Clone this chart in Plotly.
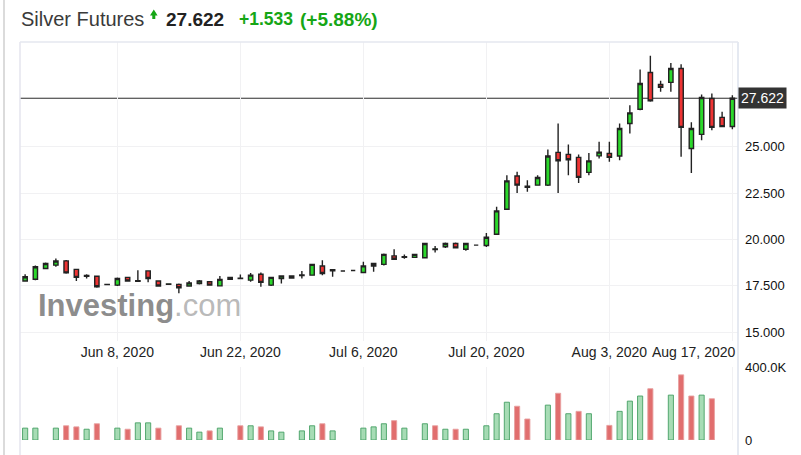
import plotly.graph_objects as go

# ---------------- data ----------------
dates = [
    "2020-05-28", "2020-05-29", "2020-05-31",
    "2020-06-01", "2020-06-02", "2020-06-03", "2020-06-04", "2020-06-05", "2020-06-07",
    "2020-06-08", "2020-06-09", "2020-06-10", "2020-06-11", "2020-06-12", "2020-06-14",
    "2020-06-15", "2020-06-16", "2020-06-17", "2020-06-18", "2020-06-19", "2020-06-21",
    "2020-06-22", "2020-06-23", "2020-06-24", "2020-06-25", "2020-06-26", "2020-06-28",
    "2020-06-29", "2020-06-30", "2020-07-01", "2020-07-02", "2020-07-03", "2020-07-05",
    "2020-07-06", "2020-07-07", "2020-07-08", "2020-07-09", "2020-07-10", "2020-07-12",
    "2020-07-13", "2020-07-14", "2020-07-15", "2020-07-16", "2020-07-17", "2020-07-19",
    "2020-07-20", "2020-07-21", "2020-07-22", "2020-07-23", "2020-07-24", "2020-07-26",
    "2020-07-27", "2020-07-28", "2020-07-29", "2020-07-30", "2020-07-31", "2020-08-02",
    "2020-08-03", "2020-08-04", "2020-08-05", "2020-08-06", "2020-08-07", "2020-08-09",
    "2020-08-10", "2020-08-11", "2020-08-12", "2020-08-13", "2020-08-14", "2020-08-16",
    "2020-08-17",
]

opens = [
    17.75, 17.85, 18.43,
    18.61, 18.84, 18.38, 18.01, 18.01, 17.56,
    17.53, 17.95, 17.74, 18.30, 17.75, 17.58,
    17.57, 17.48, 17.62, 17.71, 17.49, 17.84,
    17.91, 17.80, 18.12, 17.53, 17.89, 17.91,
    18.05, 18.07, 18.56, 18.31, 18.29, 18.32,
    18.21, 18.56, 18.65, 19.11, 19.04, 19.03,
    19.01, 19.45, 19.60, 19.78, 19.47, 19.69,
    19.67, 20.28, 21.63, 23.42, 22.81, 22.93,
    22.93, 24.70, 24.59, 24.43, 23.62, 24.51,
    24.64, 24.50, 26.26, 27.03, 29.01, 28.36,
    28.48, 29.23, 24.91, 25.67, 27.61, 26.59,
    26.10,
]
highs = [
    18.12, 18.59, 18.75,
    18.97, 18.89, 18.41, 18.12, 18.04, 17.58,
    17.94, 17.99, 18.34, 18.34, 17.79, 17.63,
    17.62, 17.76, 17.81, 17.75, 18.03, 17.97,
    18.11, 18.19, 18.21, 17.99, 18.07, 18.06,
    18.30, 18.69, 18.88, 18.39, 18.31, 18.33,
    18.79, 18.74, 19.24, 19.47, 19.19, 19.20,
    19.80, 19.65, 19.83, 19.83, 19.81, 19.70,
    20.34, 21.76, 23.47, 23.65, 23.20, 23.47,
    24.86, 26.26, 25.13, 24.59, 24.67, 25.27,
    25.27, 26.26, 27.25, 29.18, 29.91, 28.56,
    29.53, 29.46, 26.32, 27.83, 27.88, 26.89,
    27.79,
]
lows = [
    17.71, 17.79, 18.39,
    18.52, 18.14, 17.76, 17.89, 17.39, 17.55,
    17.49, 17.72, 17.72, 17.68, 17.44, 17.54,
    17.09, 17.45, 17.57, 17.50, 17.46, 17.83,
    17.87, 17.71, 17.44, 17.49, 17.62, 17.90,
    17.89, 18.04, 18.07, 17.98, 18.27, 18.31,
    18.19, 18.25, 18.59, 18.89, 18.95, 19.02,
    18.98, 19.29, 19.54, 19.51, 19.39, 19.68,
    19.59, 20.24, 21.59, 22.51, 22.57, 22.90,
    22.89, 22.51, 23.47, 23.05, 23.47, 24.37,
    24.19, 24.28, 25.72, 26.98, 27.43, 27.97,
    27.97, 24.46, 23.59, 25.36, 25.90, 26.06,
    25.95,
]
closes = [
    17.98, 18.52, 18.70,
    18.83, 18.19, 17.95, 18.05, 17.44, 17.57,
    17.89, 17.75, 17.77, 17.89, 17.48, 17.60,
    17.39, 17.65, 17.76, 17.53, 17.84, 17.95,
    17.89, 18.07, 17.68, 17.95, 18.03, 18.02,
    18.08, 18.65, 18.16, 18.36, 18.29, 18.32,
    18.57, 18.70, 19.19, 18.93, 19.07, 19.19,
    19.78, 19.49, 19.78, 19.54, 19.78, 19.69,
    20.12, 21.54, 23.16, 22.93, 22.87, 23.34,
    24.50, 24.25, 24.30, 23.35, 24.24, 24.71,
    24.43, 25.99, 26.83, 28.42, 27.48, 28.21,
    29.23, 26.05, 25.99, 27.66, 26.05, 26.089,
    27.622,
]
volumes = [
    65000, 65000, None,
    65000, 78000, 72000, 59000, 89000, None,
    65000, 59000, 94000, 94000, 65000, None,
    78000, 65000, 43000, 50000, 65000, None,
    78000, 78000, 72000, 50000, 43000, None,
    50000, 78000, 89000, 50000, None, None,
    65000, 72000, 89000, 106000, 65000, None,
    89000, 78000, 59000, 59000, 59000, None,
    78000, 144000, 207000, 185000, 115000, None,
    191000, 256000, 144000, 157000, 144000, None,
    80000, 157000, 213000, 241000, 281000, None,
    246000, 357000, 241000, 246000, 226000, None,
    None,
]

tick_dates = ["2020-06-08", "2020-06-22", "2020-07-06", "2020-07-20", "2020-08-03", "2020-08-17"]
tick_labels = ["Jun 8, 2020", "Jun 22, 2020", "Jul 6, 2020", "Jul 20, 2020", "Aug 3, 2020", "Aug 17, 2020"]
price_ticks = [15.0, 17.5, 20.0, 22.5, 25.0]
volume_ticks = [0, 400000]
volume_tick_labels = ["0", "400.0K"]

instrument = "Silver Futures"
change = 1.533
change_pct = 5.88

# ---------------- styling / layout helpers ----------------
W, H = 801, 455
ML, MR, MT, MB = 20, 63, 42, 15
PW, PH = W - ML - MR, H - MT - MB


def xp(px):
    return (px - ML) / PW


def yp(py):
    return (H - MB - py) / PH


FONT = "Arial, Liberation Sans, sans-serif"
UP = "#16a616"

last = closes[-1]

# volume colours: close vs previous close
vol_fill, vol_line = [], []
for i, c in enumerate(closes):
    up = i == 0 or c >= closes[i - 1]
    vol_fill.append("rgba(130,205,150,0.7)" if up else "rgba(220,85,85,0.85)")
    vol_line.append("rgba(70,160,100,0.9)" if up else "rgba(232,160,160,0.9)")

fig = go.Figure()

fig.add_trace(go.Candlestick(
    x=dates, open=opens, high=highs, low=lows, close=closes,
    increasing=dict(fillcolor="#2bd82b", line=dict(color="#222222", width=1.4)),
    decreasing=dict(fillcolor="#ee3434", line=dict(color="#222222", width=1.4)),
    whiskerwidth=0, xaxis="x", yaxis="y", showlegend=False, hoverinfo="skip",
))

fig.add_trace(go.Bar(
    x=dates, y=volumes, width=0.5,
    marker=dict(color=vol_fill, line=dict(color=vol_line, width=1)),
    xaxis="x2", yaxis="y2", showlegend=False, hoverinfo="skip",
))

price_bottom_px = 341
vol_top_px = 367
p_per_px = 2.5 / 46.3
y25_px = 146.8
p_top = 25 + (y25_px - MT) * p_per_px
p_bot = 25 - (price_bottom_px - y25_px) * p_per_px

n = len(dates)
xrange = [-0.5, n - 0.45]

grid = "#f1f1f3"
fig.update_layout(
    width=W, height=H,
    margin=dict(l=ML, r=MR, t=MT, b=MB, autoexpand=False),
    paper_bgcolor="white", plot_bgcolor="white",
    font=dict(family=FONT, color="#222"),
    boxgap=0.4,
    xaxis=dict(
        type="category", domain=[0, 1], anchor="y", range=xrange,
        rangeslider=dict(visible=False),
        tickmode="array", tickvals=tick_dates,
        ticktext=tick_labels[:-1] + [""],
        showgrid=True, gridcolor=grid, gridwidth=1,
        ticks="", tickfont=dict(size=14, color="#222"),
        showline=False, zeroline=False, ticklabelstandoff=1,
    ),
    xaxis2=dict(
        type="category", domain=[0, 1], anchor="y2", matches="x",
        tickmode="array", tickvals=tick_dates, showticklabels=False,
        showgrid=True, gridcolor=grid, ticks="", showline=False,
        rangeslider=dict(visible=False),
    ),
    yaxis=dict(
        domain=[yp(price_bottom_px), 1], range=[p_bot, p_top], side="right",
        tickmode="array", tickvals=price_ticks,
        ticktext=[f"{v:.3f}" for v in price_ticks],
        showgrid=True, gridcolor=grid, zeroline=False, ticks="",
        tickfont=dict(size=13, color="#111"), ticklabelstandoff=6,
        showline=False,
    ),
    yaxis2=dict(
        domain=[0, yp(vol_top_px)], range=[0, 400000], side="right",
        tickmode="array", tickvals=volume_ticks, ticktext=volume_tick_labels,
        showgrid=True, gridcolor=grid, zeroline=False, ticks="",
        tickfont=dict(size=13, color="#111"), ticklabelstandoff=6,
        showline=False,
    ),
)

shapes = [
    # outer left separator
    dict(type="line", xref="paper", yref="paper", x0=xp(4), x1=xp(4), y0=yp(H), y1=yp(0),
         line=dict(color="#cfcfcf", width=1.5)),
    # chart frame
    dict(type="line", xref="paper", yref="paper", x0=0, x1=0, y0=yp(H), y1=1,
         line=dict(color="#e4e4ee", width=1.5)),
    dict(type="line", xref="paper", yref="paper", x0=1, x1=1, y0=yp(H), y1=1,
         line=dict(color="#dde2ec", width=1.5)),
    dict(type="line", xref="paper", yref="paper", x0=0, x1=1, y0=1, y1=1,
         line=dict(color="#e4e7ef", width=1.5)),
    # last price line
    dict(type="line", xref="paper", yref="y", x0=0, x1=1, y0=last, y1=last,
         line=dict(color="#2a2a2a", width=1), layer="below"),
    # green arrow in header
    dict(type="path", xref="paper", yref="paper",
         path=f"M {xp(150)} {yp(15.5)} L {xp(153.8)} {yp(9.5)} L {xp(157.6)} {yp(15.5)} "
              f"L {xp(155.3)} {yp(15.5)} L {xp(155.3)} {yp(19)} L {xp(152.3)} {yp(19)} "
              f"L {xp(152.3)} {yp(15.5)} Z",
         fillcolor=UP, line=dict(width=0)),
]
fig.update_layout(shapes=shapes)

ann = [
    dict(text=instrument, x=xp(19), y=yp(19.5), xanchor="left", yanchor="middle",
         font=dict(size=20, color="#3a3a3a")),
    dict(text=f"<b>{last:.3f}</b>", x=xp(164), y=yp(19.5), xanchor="left", yanchor="middle",
         font=dict(size=19, color="#222")),
    dict(text=f"<b>+{change:.3f}</b>", x=xp(237), y=yp(19.5), xanchor="left", yanchor="middle",
         font=dict(size=17.5, color=UP)),
    dict(text=f"<b>(+{change_pct:.2f}%)</b>", x=xp(298), y=yp(19.5), xanchor="left", yanchor="middle",
         font=dict(size=19, color=UP)),
    # last price label
    dict(text=f"{last:.3f}", xref="paper", yref="y", x=1, y=last, xanchor="left", yanchor="middle",
         bgcolor="#333333", font=dict(size=14, color="white"), borderpad=2),
    # last date label (shifted left like the original)
    dict(text=tick_labels[-1], xref="x", yref="paper", x=tick_dates[-1], y=yp(352),
         xanchor="right", yanchor="middle", xshift=6, font=dict(size=14, color="#222")),
    # watermark
    dict(text="<b>Investing</b><span style='color:rgba(150,150,150,0.8)'>.com</span>",
         x=xp(36), y=yp(305), xanchor="left", yanchor="middle",
         font=dict(size=31, color="rgba(120,120,120,0.85)")),
]
for a in ann:
    a.setdefault("xref", "paper")
    a.setdefault("yref", "paper")
    a["showarrow"] = False
fig.update_layout(annotations=ann)

fig.write_html("out.html")
